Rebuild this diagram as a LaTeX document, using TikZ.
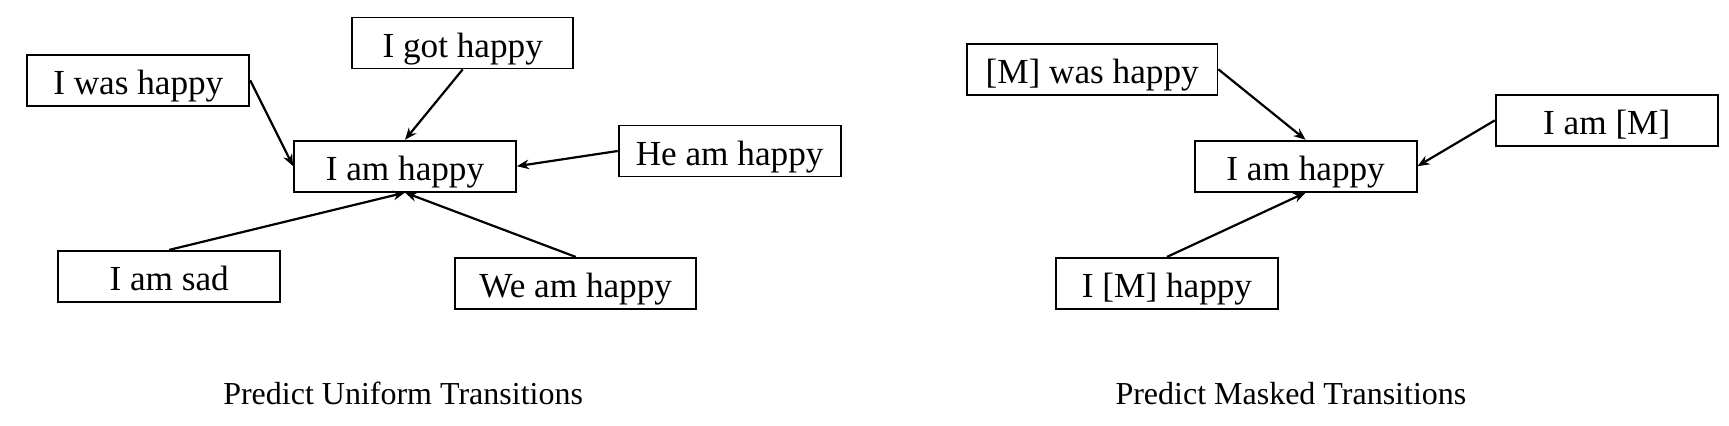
\documentclass[tikz,border=0pt]{standalone}
\usepackage{fontspec}
\setmainfont{Liberation Serif}
\usetikzlibrary{arrows.meta}
\begin{document}
\begin{tikzpicture}[x=0.5pt,y=-0.5pt,
  box/.style={draw,line width=0.9pt,inner sep=0pt,minimum width=111pt,minimum height=25.5pt,
    font=\fontsize{17.6}{20}\selectfont,text height=14.2pt,text depth=0pt},
  conn/.style={line width=1.1pt,-{Stealth[length=6pt,width=4.8pt]}},
  ttl/.style={font=\fontsize{16}{18}\selectfont,anchor=base}]
\useasboundingbox (0,0) rectangle (1729,426);
% left panel
\node[box] (c1) at (405,166.2) {I am happy};
\node[box] (was) at (138.3,80.2) {I was happy};
\node[box,minimum width=110.5pt] (got) at (462.7,43) {I got happy};
\node[box] (he) at (729.6,151) {He am happy};
\node[box] (sad) at (169.2,276.3) {I am sad};
\node[box,minimum width=120.6pt] (we) at (575.7,283.3) {We am happy};
\draw[conn] (was.east) -- (c1.west);
\draw[conn] (got.south) -- (c1.north);
\draw[conn] (he.west) -- (c1.east);
\draw[conn] (sad.north) -- (c1.south);
\draw[conn] (we.north) -- (c1.south);
\node[ttl] (t1) at (403.1,405) {Predict Uniform Transitions};
% right panel
\node[box] (c2) at (1305.6,166.2) {I am happy};
\node[box,minimum width=125.2pt] (mwas) at (1092.2,69.3) {[M] was happy};
\node[box] (amm) at (1606.7,120.4) {I am [M]};
\node[box] (mh) at (1167,283.3) {I [M] happy};
\draw[conn] (mwas.east) -- (c2.north);
\draw[conn] (amm.west) -- (c2.east);
\draw[conn] (mh.north) -- (c2.south);
\node[ttl] (t2) at (1290.9,405) {Predict Masked Transitions};
\end{tikzpicture}
\end{document}
